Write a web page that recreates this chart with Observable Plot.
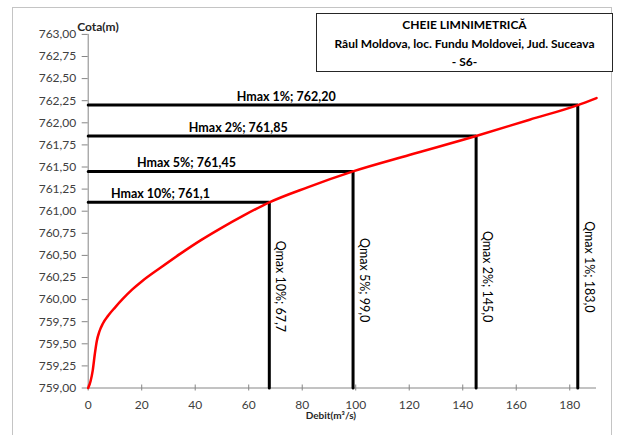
<!DOCTYPE html>
<html>
<head>
<meta charset="utf-8">
<script src="https://cdn.jsdelivr.net/npm/d3@7"></script>
<script src="https://cdn.jsdelivr.net/npm/@observablehq/plot@0.6"></script>
<style>
  html, body { margin: 0; padding: 0; background: #fff; }
  #wrap { position: relative; width: 621px; height: 435px; overflow: hidden; font-family: Lato, "DejaVu Sans", sans-serif; }
  #frame { position: absolute; left: 12px; top: 7px; width: 600px; height: 460px; border: 1px solid #c4c4c4; box-sizing: border-box; pointer-events: none; }
  #title { position: absolute; left: 316px; top: 13px; width: 297px; height: 59px; border: 1px solid #262626; box-sizing: border-box; background: #fff;
           text-align: center; font-weight: bold; font-size: 12px; line-height: 18.5px; color: #000; padding-top: 2px; }
  #chart { position: absolute; left: 0; top: 0; }
</style>
</head>
<body>
<div id="wrap">
  <div id="frame"></div>
  <div id="chart"></div>
  <div id="title">CHEIE LIMNIMETRICĂ<br>Râul Moldova, loc. Fundu Moldovei, Jud. Suceava<br>- S6-</div>
</div>
<script>
// Rating curve (debit m3/s -> cota m)
const curveQ = [0, 0.9, 1.7, 2.5, 3.2, 4.2, 5.5, 7.5, 10, 13, 16.5, 20, 27, 34.5, 42, 50, 58, 67.7, 82, 99, 120, 145, 165, 183, 190];
const curveH = [759.00, 759.08, 759.20, 759.39, 759.53, 759.64, 759.73, 759.82, 759.91, 760.01, 760.115, 760.205, 760.36, 760.52, 760.67, 760.815, 760.95, 761.10, 761.27, 761.45, 761.635, 761.85, 762.035, 762.20, 762.28];

// Design floods
const probs = ["10%", "5%", "2%", "1%"];
const qmax = [67.7, 99.0, 145.0, 183.0];
const hmax = [761.10, 761.45, 761.85, 762.20];
const qmaxText = ["67,7", "99,0", "145,0", "183,0"];
const hmaxText = ["761,1", "761,45", "761,85", "762,20"];
// label anchor positions (data units)
const hLabelQ = [27, 36.7, 56.1, 74];
const qLabelH = [760.15, 760.22, 760.26, 760.37];

const xTicks = [0, 20, 40, 60, 80, 100, 120, 140, 160, 180];
const yTicks = d3.range(0, 17).map(i => 759 + i * 0.25);
const yFmt = d => d.toFixed(2).replace(".", ",");

const curve = curveQ.map((q, i) => ({q, h: curveH[i]}));
const guides = [];
probs.forEach((p, i) => {
  guides.push({k: p, q: 0, h: hmax[i]}, {k: p, q: qmax[i], h: hmax[i]}, {k: p, q: qmax[i], h: 759});
});
const hLabels = probs.map((p, i) => ({q: hLabelQ[i], h: hmax[i], t: `Hmax ${p}; ${hmaxText[i]}`}));
const qLabels = probs.map((p, i) => ({q: qmax[i], h: qLabelH[i], t: `Qmax ${p}; ${qmaxText[i]}`}));

const axisGray = "#868686";
const textGray = "#404040";

const chart = Plot.plot({
  width: 621,
  height: 435,
  marginLeft: 87.7,
  marginRight: 25,
  marginTop: 33.9,
  marginBottom: 47.5,
  style: {fontFamily: "Lato, 'DejaVu Sans', sans-serif", background: "transparent"},
  x: {domain: [0, 190], axis: null},
  y: {domain: [759, 763], axis: null},
  marks: [
    Plot.ruleY([759], {stroke: axisGray, strokeWidth: 1}),
    Plot.ruleX([0], {stroke: axisGray, strokeWidth: 1}),
    Plot.axisY({ticks: yTicks, tickSize: 6, tickPadding: 6, tickFormat: yFmt, fontSize: 12, stroke: axisGray, fill: textGray, label: null}),
    Plot.axisX({ticks: xTicks, tickSize: 6, dy: -3, tickFormat: () => "", stroke: axisGray, label: null}),
    Plot.axisX({ticks: xTicks, tickSize: 0, tickPadding: 12, fontSize: 12, fill: textGray, label: null}),
    Plot.line(guides, {x: "q", y: "h", z: "k", stroke: "#000", strokeWidth: 3, strokeLinejoin: "miter"}),
    Plot.line(curve, {x: "q", y: "h", stroke: "#ff0000", strokeWidth: 2.5, curve: "monotone-x"}),
    Plot.text(hLabels, {x: "q", y: "h", text: "t", dy: -8, fontWeight: "bold", fontSize: 12.5, fill: "#000"}),
    Plot.text(qLabels, {x: "q", y: "h", text: "t", rotate: 90, dx: 11, fontSize: 12.5, fill: "#000"}),
    Plot.text(["Cota(m)"], {frameAnchor: "top-left", dx: -11, dy: -12, fontWeight: "bold", fontSize: 12, fill: "#262626"}),
    Plot.text(["Debit(m³/s)"], {frameAnchor: "bottom", dx: -11.5, dy: 31, fontWeight: "bold", fontSize: 10, fill: "#262626"})
  ]
});
document.getElementById("chart").appendChild(chart);
</script>
</body>
</html>
